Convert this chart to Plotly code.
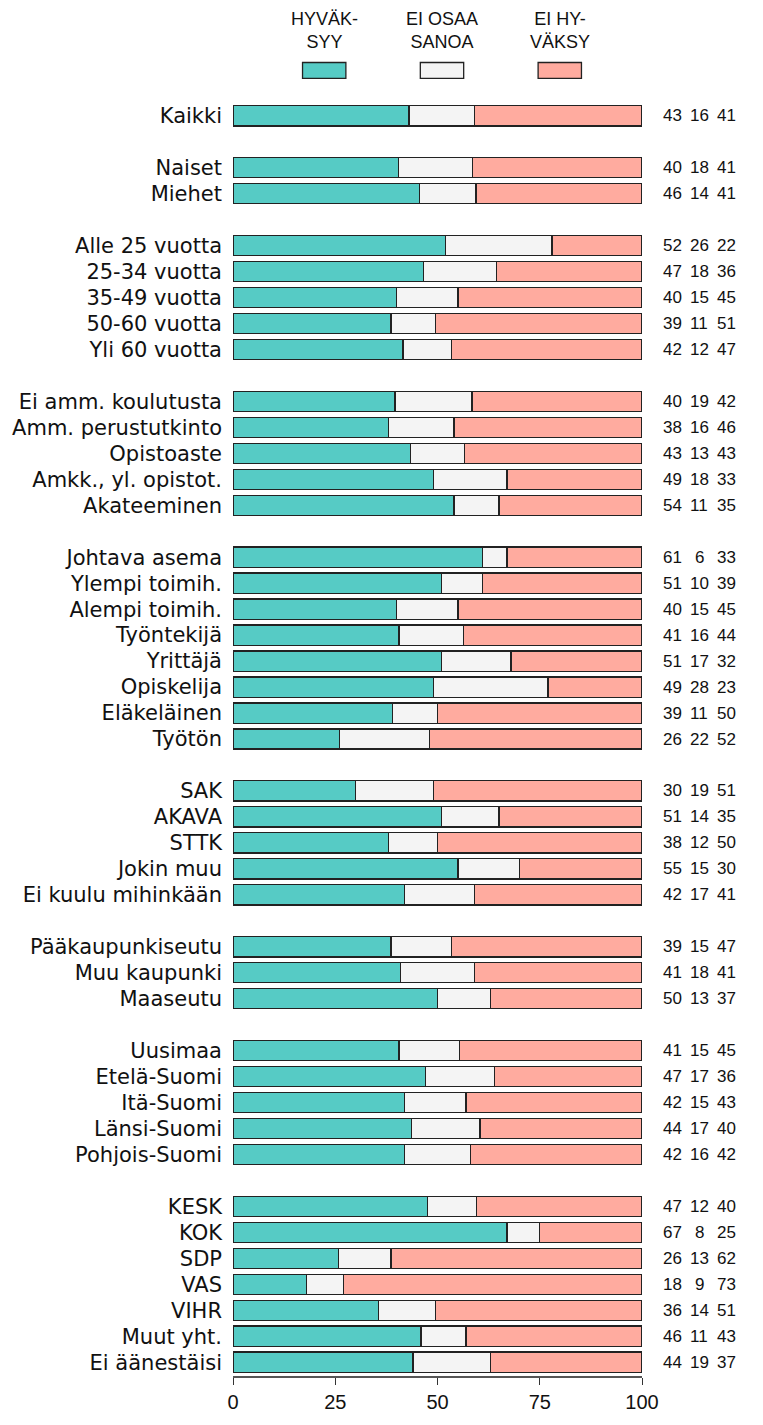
import plotly.graph_objects as go

groups = [
    ["Kaikki"],
    ["Naiset", "Miehet"],
    ["Alle 25 vuotta", "25-34 vuotta", "35-49 vuotta", "50-60 vuotta", "Yli 60 vuotta"],
    ["Ei amm. koulutusta", "Amm. perustutkinto", "Opistoaste", "Amkk., yl. opistot.", "Akateeminen"],
    ["Johtava asema", "Ylempi toimih.", "Alempi toimih.", "Työntekijä", "Yrittäjä",
     "Opiskelija", "Eläkeläinen", "Työtön"],
    ["SAK", "AKAVA", "STTK", "Jokin muu", "Ei kuulu mihinkään"],
    ["Pääkaupunkiseutu", "Muu kaupunki", "Maaseutu"],
    ["Uusimaa", "Etelä-Suomi", "Itä-Suomi", "Länsi-Suomi", "Pohjois-Suomi"],
    ["KESK", "KOK", "SDP", "VAS", "VIHR", "Muut yht.", "Ei äänestäisi"],
]

approve = [43, 40, 46, 52, 47, 40, 39, 42, 40, 38, 43, 49, 54, 61, 51, 40, 41, 51, 49, 39, 26,
           30, 51, 38, 55, 42, 39, 41, 50, 41, 47, 42, 44, 42, 47, 67, 26, 18, 36, 46, 44]
unsure = [16, 18, 14, 26, 18, 15, 11, 12, 19, 16, 13, 18, 11, 6, 10, 15, 16, 17, 28, 11, 22,
          19, 14, 12, 15, 17, 15, 18, 13, 15, 17, 15, 17, 16, 12, 8, 13, 9, 14, 11, 19]
disapprove = [41, 41, 41, 22, 36, 45, 51, 47, 42, 46, 43, 33, 35, 33, 39, 45, 44, 32, 23, 50, 52,
              51, 35, 50, 30, 41, 47, 41, 37, 45, 36, 43, 40, 42, 40, 25, 62, 73, 51, 43, 37]

series_names = ["HYVÄK-<br>SYY", "EI OSAA<br>SANOA", "EI HY-<br>VÄKSY"]
colors = ["#56CBC5", "#F4F4F4", "#FFAB9F"]
tick_vals_x = [0, 25, 50, 75, 100]

# slot positions: one empty slot between groups
labels, ypos = [], []
slot = 0
for g in groups:
    for c in g:
        labels.append(c)
        ypos.append(slot)
        slot += 1
    slot += 1
last_slot = ypos[-1]

totals = [a + u + d for a, u, d in zip(approve, unsure, disapprove)]
series = [approve, unsure, disapprove]

fig = go.Figure()
for name, vals, col in zip(series_names, series, colors):
    shares = [v / t * 100 for v, t in zip(vals, totals)]
    fig.add_trace(go.Bar(
        x=shares, y=ypos, orientation="h", name=name, width=0.78,
        marker=dict(color=col, line=dict(color="#222222", width=1.3)),
        showlegend=False, hoverinfo="skip",
    ))

FONT = "Liberation Sans, Arial, sans-serif"
LABEL_FONT = "DejaVu Sans, Liberation Sans, sans-serif"

TOP = 102
PH = 1290.0
BOT = 33

# right-side numbers (paper x beyond the plot area)
num_x = [1.075, 1.1404, 1.2058]
for vals, nx in zip(series, num_x):
    for v, y in zip(vals, ypos):
        fig.add_annotation(x=nx, y=y, xref="paper", yref="y", text=str(v), showarrow=False,
                           font=dict(size=17, color="#111111", family=FONT),
                           xanchor="center", yanchor="middle")

# legend (boxes with text above); offsets in px above plot top
def py(px_above):
    return 1 + px_above / PH

leg_centers = [22.3, 51.1, 79.9]
for name, col, cx in zip(series_names, colors, leg_centers):
    fig.add_shape(type="rect", xref="x", yref="paper", x0=cx - 5.3, x1=cx + 5.3,
                  y0=py(24), y1=py(40),
                  fillcolor=col, line=dict(color="#222222", width=1.3))
    fig.add_annotation(x=cx, y=py(49), xref="x", yref="paper", text=name,
                       showarrow=False, xanchor="center", yanchor="bottom",
                       font=dict(size=18, color="#111111", family=FONT))

fig.update_layout(
    barmode="stack", bargap=0,
    width=763, height=int(TOP + PH + BOT),
    margin=dict(l=229, r=121, t=TOP, b=BOT),
    plot_bgcolor="white", paper_bgcolor="white",
    font=dict(family=FONT, color="#111111"),
    xaxis=dict(range=[0, 100], tickvals=tick_vals_x, ticks="outside", ticklen=7,
               tickcolor="#333333", showline=True, linecolor="#555555", linewidth=2,
               showgrid=False, zeroline=False, tickfont=dict(size=20, family=FONT)),
    yaxis=dict(range=[last_slot + 0.53, -0.53], tickvals=ypos, ticktext=labels,
               showgrid=False, zeroline=False, showline=False, ticks="",
               ticklabelstandoff=10, tickfont=dict(size=21, family=LABEL_FONT, color="#111111")),
)

fig.write_html("out.html", config={"displayModeBar": False, "staticPlot": True},
               post_script="document.body.style.margin='0';document.body.style.overflow='hidden';")
